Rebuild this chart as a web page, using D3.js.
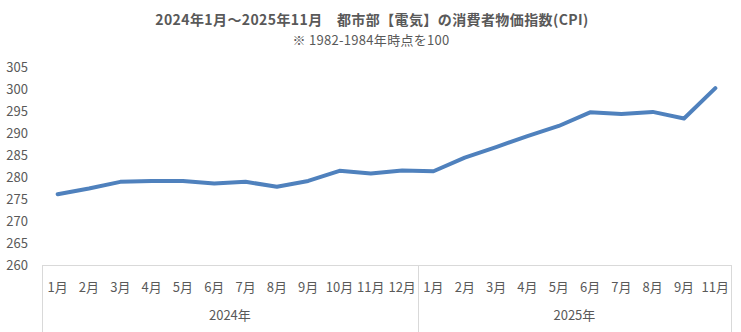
<!DOCTYPE html>
<meta charset="utf-8">
<style>
  body { margin: 0; background: #fff; }
  text { font-family: "Noto Sans CJK JP", "Noto Sans", sans-serif; fill: #595959; }
  .line { fill: none; stroke: #4f81bd; stroke-width: 4; stroke-linejoin: round; stroke-linecap: round; }
  .frame { stroke: #d9d9d9; stroke-width: 1; fill: none; }
</style>
<body></body>
<script src="https://d3js.org/d3.v7.min.js"></script>
<script>
  var width = 741, height = 332;

  // categories: month labels and which year group they belong to
  var months = ["1月","2月","3月","4月","5月","6月","7月","8月","9月","10月","11月","12月",
                "1月","2月","3月","4月","5月","6月","7月","8月","9月","11月"];
  var years = ["2024年","2025年"];

  // CPI values
  var cpi = [276.1, 277.4, 278.9, 279.1, 279.1, 278.5, 278.9, 277.8, 279.1, 281.4, 280.8, 281.5,
             281.3, 284.4, 286.8, 289.3, 291.6, 294.7, 294.3, 294.8, 293.3, 300.2];

  var yTicks = [260, 265, 270, 275, 280, 285, 290, 295, 300, 305];

  var svg = d3.select("body").append("svg")
      .attr("width", width)
      .attr("height", height);

  var x = d3.scaleBand()
      .domain(d3.range(months.length))
      .range([42, 731]);

  var y = d3.scaleLinear()
      .domain([260, 305])
      .range([265, 67]);

  // title
  svg.append("text")
      .attr("x", 372).attr("y", 25)
      .attr("text-anchor", "middle")
      .style("font-size", "14px").style("font-weight", "bold")
      .style("letter-spacing", "0.4px")
      .text("2024年1月～2025年11月　都市部【電気】の消費者物価指数(CPI)");
  svg.append("text")
      .attr("x", 371).attr("y", 45)
      .attr("text-anchor", "middle")
      .style("font-size", "13px")
      .style("letter-spacing", "0.3px")
      .text("※ 1982-1984年時点を100");

  // y axis labels
  svg.selectAll(".ylab")
      .data(yTicks)
      .enter().append("text")
      .attr("class", "ylab")
      .attr("x", 28)
      .attr("y", function(d) { return y(d); })
      .attr("dy", "0.35em")
      .attr("text-anchor", "end")
      .style("font-size", "13px")
      .text(function(d) { return d; });

  // category axis frame
  svg.append("line").attr("class", "frame")
      .attr("x1", x.range()[0]).attr("x2", x.range()[1])
      .attr("y1", 265.5).attr("y2", 265.5);

  var bounds = [0, 12, 22];
  svg.selectAll(".div")
      .data(bounds)
      .enter().append("line")
      .attr("class", "frame")
      .attr("x1", function(d) { return Math.round(d < months.length ? x(d) : x.range()[1]) + 0.5; })
      .attr("x2", function(d) { return Math.round(d < months.length ? x(d) : x.range()[1]) + 0.5; })
      .attr("y1", 265).attr("y2", 332);

  // month labels
  svg.selectAll(".mlab")
      .data(months)
      .enter().append("text")
      .attr("class", "mlab")
      .attr("x", function(d, i) { return x(i) + x.bandwidth() / 2; })
      .attr("y", 287)
      .attr("dy", "0.35em")
      .attr("text-anchor", "middle")
      .style("font-size", "13px")
      .text(function(d) { return d; });

  // year labels
  svg.selectAll(".ylbl")
      .data(years)
      .enter().append("text")
      .attr("class", "ylbl")
      .attr("x", function(d, k) {
          var a = x(bounds[k]);
          var b = bounds[k + 1] < months.length ? x(bounds[k + 1]) : x.range()[1];
          return (a + b) / 2;
      })
      .attr("y", 315)
      .attr("dy", "0.35em")
      .attr("text-anchor", "middle")
      .style("font-size", "13px")
      .text(function(d) { return d; });

  // line
  var line = d3.line()
      .x(function(d, i) { return x(i) + x.bandwidth() / 2; })
      .y(function(d) { return y(d); });

  svg.append("path")
      .datum(cpi)
      .attr("class", "line")
      .attr("d", line);
</script>
